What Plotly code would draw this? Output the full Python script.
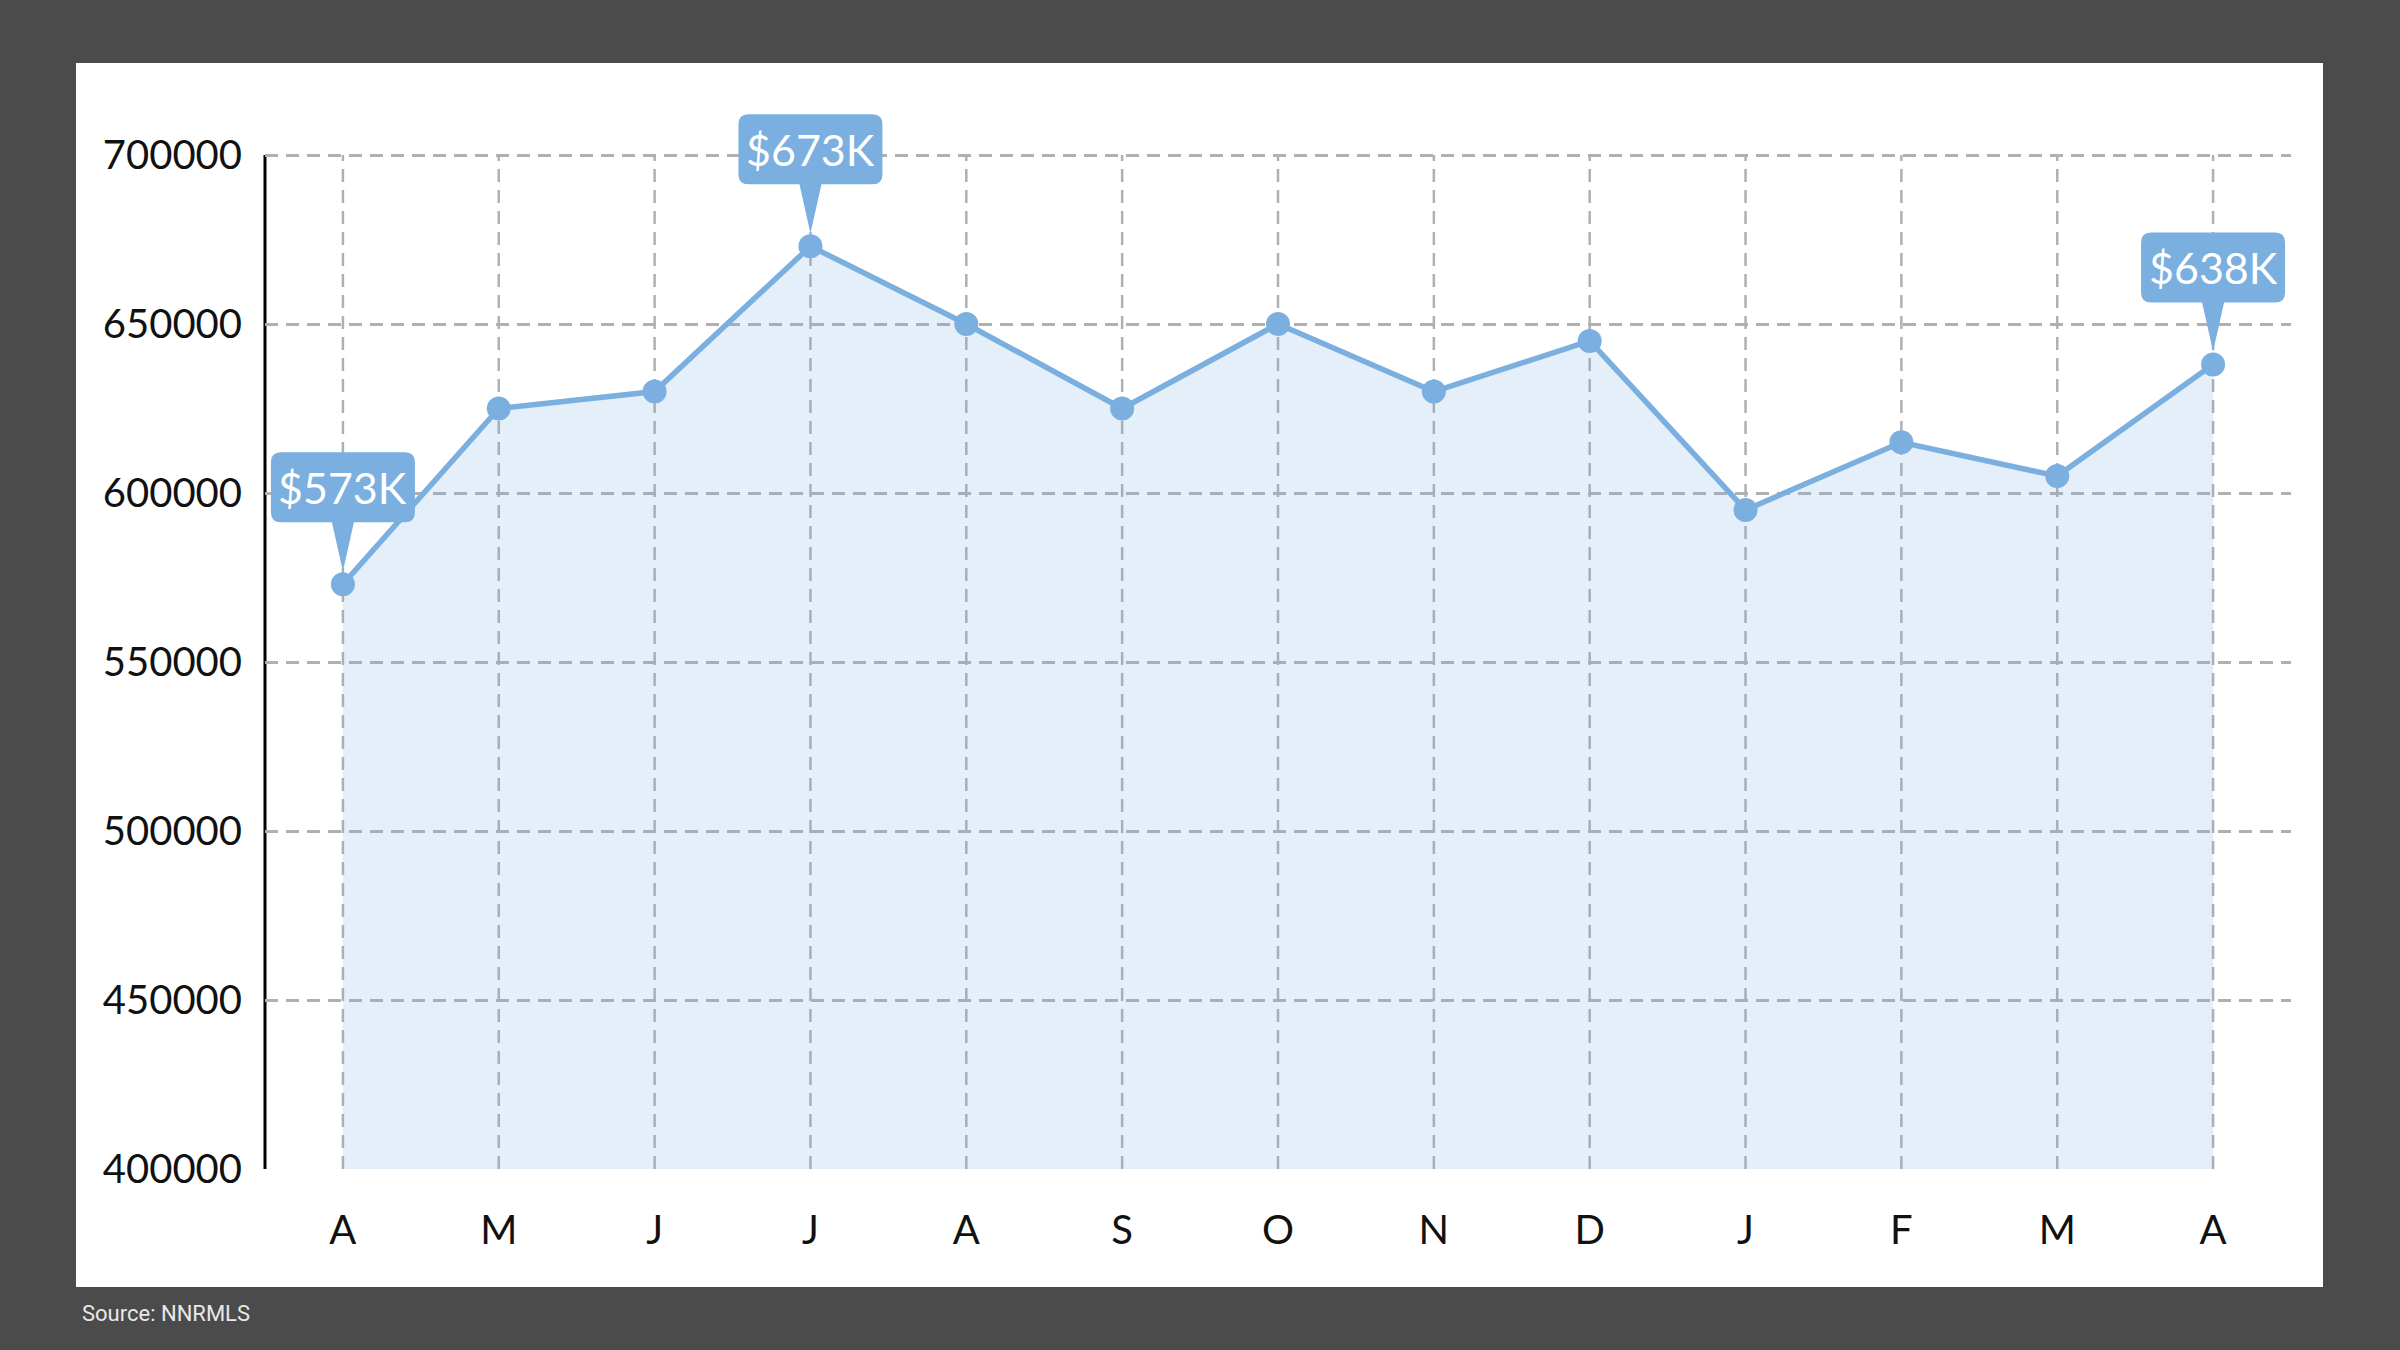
import plotly.graph_objects as go

# monthly median price, Apr -> Apr
months = ["A", "M", "J", "J", "A", "S", "O", "N", "D", "J", "F", "M", "A"]
prices = [573000, 625000, 630000, 673000, 650000, 625000, 650000,
          630000, 645000, 595000, 615000, 605000, 638000]
callout_idx = [0, 3, 12]
y_ticks = [400000, 450000, 500000, 550000, 600000, 650000, 700000]

BLUE = "#7aafdf"
FILL = "rgba(122,175,223,0.2)"
GRID = "#b0b0b0"
DASH = "13px,8px"

W, H = 2400, 1350
L, R, T, B = 265, 2291, 100, 1169      # plot area in px
Y_TOP_TICK_PX = 155                    # where 700000 sits
x_idx = list(range(len(months)))

# stretch the range above the top tick so the callout box is not clipped
y_lo, y_hi_tick = y_ticks[0], y_ticks[-1]
y_hi = y_hi_tick + (Y_TOP_TICK_PX - T) * (y_hi_tick - y_lo) / (B - Y_TOP_TICK_PX)


def fx(px):
    return (px - L) / (R - L)


def fy(py):
    return (B - py) / (B - T)


fig = go.Figure()

fig.add_trace(go.Scatter(
    x=x_idx, y=prices,
    mode="lines+markers",
    line=dict(color=BLUE, width=5.5),
    marker=dict(color=BLUE, size=24),
    fill="tozeroy", fillcolor=FILL,
    hoverinfo="skip",
))

shapes = [
    # white card
    dict(type="rect", xref="paper", yref="paper",
         x0=fx(76), x1=fx(2323), y0=fy(1287), y1=fy(63),
         fillcolor="white", line=dict(width=0), layer="below"),
    # y axis line only over the tick span
    dict(type="line", xref="paper", yref="y", x0=0, x1=0,
         y0=y_lo, y1=y_hi_tick, line=dict(color="black", width=3),
         layer="below"),
]
# vertical grid, stopping at the top tick
for i in x_idx:
    shapes.append(dict(type="line", xref="x", yref="y", x0=i, x1=i,
                       y0=y_lo, y1=y_hi_tick, layer="below",
                       line=dict(color=GRID, width=2.5, dash=DASH)))

# rounded callout with a pointer, in px relative to the point
bubble = ("M -62,132 L 62,132 Q 72,132 72,122 L 72,72 Q 72,62 62,62 "
          "L 11,62 L 0,13 L -11,62 L -62,62 Q -72,62 -72,72 "
          "L -72,122 Q -72,132 -62,132 Z")
annotations = []
for i in callout_idx:
    shapes.append(dict(type="path", xref="x", yref="y",
                       xsizemode="pixel", ysizemode="pixel",
                       xanchor=x_idx[i], yanchor=prices[i], path=bubble,
                       fillcolor=BLUE, line=dict(width=0), layer="above"))
    annotations.append(dict(x=x_idx[i], y=prices[i], xref="x", yref="y",
                            text="$%dK" % round(prices[i] / 1000),
                            showarrow=False, yshift=97,
                            font=dict(family="Lato", size=43, color="white")))

annotations.append(dict(x=fx(80), y=fy(1313), xref="paper", yref="paper",
                        xanchor="left", yanchor="middle", showarrow=False,
                        text="Source: NNRMLS",
                        font=dict(family="Liberation Sans Narrow, Roboto",
                                  size=22, color="#e8e8e8")))

fig.update_layout(
    width=W, height=H,
    margin=dict(l=L, r=W - R, t=T, b=H - B),
    paper_bgcolor="#4b4b4b",
    plot_bgcolor="rgba(0,0,0,0)",
    showlegend=False,
    shapes=shapes,
    annotations=annotations,
    font=dict(family="Lato", size=40, color="#111111"),
    xaxis=dict(
        range=[-0.5, len(months) - 0.5],
        tickvals=x_idx, ticktext=months,
        showgrid=False, zeroline=False, showline=False, ticks="",
        ticklabelstandoff=34,
    ),
    yaxis=dict(
        range=[y_lo, y_hi],
        tickvals=y_ticks, ticktext=[str(v) for v in y_ticks],
        showgrid=True, gridcolor=GRID, gridwidth=2.5, griddash=DASH,
        zeroline=False, showline=False, ticks="",
        ticklabelstandoff=22,
    ),
)

fig.write_html("out.html", config={"displayModeBar": False},
               post_script="document.body.style.margin='0';")
